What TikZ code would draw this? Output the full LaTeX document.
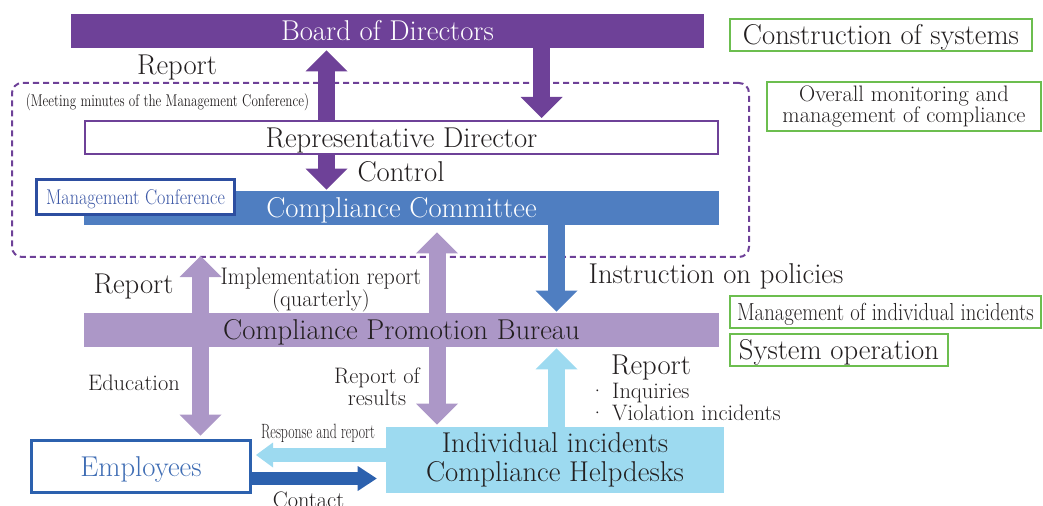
\documentclass[tikz,border=0pt]{standalone}
\usepackage{fontspec}
\usetikzlibrary{arrows.meta}
\pgfdeclarelayer{back}
\pgfdeclarelayer{bg}
\pgfsetlayers{back,bg,main}
\definecolor{cBoard}{HTML}{6E4198}
\definecolor{cCC}{HTML}{4F7EC1}
\definecolor{cLP}{HTML}{AC97C7}
\definecolor{cLB}{HTML}{9DDAF0}
\definecolor{cDB}{HTML}{2C61AE}
\definecolor{cMC}{HTML}{2D4EA0}
\definecolor{cMCt}{HTML}{3A56A5}
\definecolor{cG}{HTML}{6CBE4F}
\definecolor{cTx}{HTML}{231F20}
\definecolor{cEmp}{HTML}{3F6DB4}
\tikzset{
  box/.style={rectangle, inner sep=0pt},
  f20/.style={font=\fontsize{21.5}{24}\selectfont, text height=14.7pt, text depth=0pt},
  lab20/.style={font=\fontsize{21.5}{24}\selectfont, text=cTx, anchor=base, inner sep=0pt},
  lab15/.style={font=\fontsize{16.8}{18}\selectfont, text=cTx, anchor=base, inner sep=0pt},
  gbox/.style={box, draw=cG, line width=1.5pt, fill=white, text=cTx},
  BigTip/.tip={Triangle[width=31.5pt,length=15.75pt,line width=0pt]},
  RespTip/.tip={Triangle[width=18.75pt,length=12.75pt,line width=0pt]},
  ContTip/.tip={Triangle[width=18.75pt,length=14.25pt,line width=0pt]},
  bigarr/.style={line width=12.75pt, -BigTip},
  bigdbl/.style={line width=12.75pt, BigTip-BigTip},
}
\begin{document}
\begin{tikzpicture}[x=0.75pt,y=-0.75pt]
\useasboundingbox (0,0) rectangle (1043,506);
% coordinates for arrow axes
\coordinate (xa) at (326.5,0);
\coordinate (xb) at (541.5,0);
\coordinate (xc) at (556.5,0);
\coordinate (xd) at (200.5,0);
\coordinate (xe) at (437,0);
\coordinate (ya) at (0,455);
\coordinate (yb) at (0,478.5);

\begin{pgfonlayer}{back}
\node[box, draw=cBoard, line width=1.5pt, dash pattern=on 4.5pt off 3pt, rounded corners=7.5pt,
      minimum width=552.75pt, minimum height=130.5pt] (Mgmt) at (380.5,170) {};
\end{pgfonlayer}

% main bars
\node[box, fill=cBoard, minimum width=474.75pt, minimum height=25.5pt, f20, text=white] (Board) at (387.5,31) {Board of Directors};
\node[box, draw=cBoard, line width=1.5pt, fill=white, minimum width=474.75pt, minimum height=24.75pt, f20, text=cTx] (RD) at (401.5,137.5) {Representative Director};
\node[box, fill=cCC, minimum width=476.25pt, minimum height=25.5pt, f20, text=white] (CC) at (401.5,208) {Compliance Committee};
\node[box, fill=cLP, minimum width=476.25pt, minimum height=25.5pt, f20, text=cTx] (CPB) at (401.5,330) {Compliance Promotion Bureau};
\node[box, fill=cLB, minimum width=253.5pt, minimum height=49.5pt, font=\fontsize{21.5}{21.75}\selectfont, align=center, text=cTx] (HD) at (555,460) {Individual incidents\\Compliance Helpdesks};
\node[box, draw=cDB, line width=2.25pt, fill=white, minimum width=164.25pt, minimum height=39pt, f20, text=cEmp] (Emp) at (141,466.5) {Employees};
\node[box, draw=cMC, line width=2.25pt, fill=white, minimum width=148.5pt, minimum height=26.25pt, font=\fontsize{16}{18}\selectfont, text height=11pt, text depth=0pt, text=cMCt] (MC) at (135.5,197) {\scalebox{0.85}[1]{Management Conference}};

% green boxes
\node[gbox, minimum width=226.5pt, minimum height=24pt, f20] (CS) at (881,35) {Construction of systems};
\node[gbox, minimum width=205.5pt, minimum height=36.75pt, font=\fontsize{16.8}{15.75}\selectfont, align=center] (OM) at (904,106.5) {Overall monitoring and\\management of compliance};
\node[gbox, minimum width=233.25pt, minimum height=24pt, font=\fontsize{18.5}{20}\selectfont, text height=12.6pt, text depth=0pt] (MI) at (885.5,312) {\scalebox{0.84}[1]{Management of individual incidents}};
\node[gbox, minimum width=163.5pt, minimum height=24pt, f20] (SO) at (839,350) {System operation};

% labels
\node[lab20] (lRep1) at (177,75) {Report};
\node[font=\fontsize{12.8}{14}\selectfont, text=cTx, anchor=base, inner sep=0pt] (lMin) at (167.5,106.7) {\scalebox{0.77}[1]{(Meeting minutes of the Management Conference)}};
\node[lab20] (lCtl) at (401,181.7) {Control};
\node[lab20] (lIns) at (716,283) {Instruction on policies};
\node[lab20] (lRep2) at (133.5,293.3) {Report};
\node[font=\fontsize{18}{20}\selectfont, text=cTx, anchor=base, inner sep=0pt] (lImp) at (321,285) {\scalebox{0.92}[1]{Implementation report}};
\node[lab15] (lQ) at (321,306.7) {(quarterly)};
\node[lab15] (lEdu) at (134,390) {Education};
\node[lab15] (lRo) at (377,383) {Report of};
\node[lab15] (lRes) at (377,405) {results};
\node[lab20] (lRep3) at (651,374) {Report};
\node[lab15, anchor=base west] (lInq) at (589,398) {· Inquiries};
\node[lab15, anchor=base west] (lVio) at (589,420.7) {· Violation incidents};
\node[font=\fontsize{15.5}{17}\selectfont, text=cTx, anchor=base, inner sep=0pt] (lResp) at (318,438) {\scalebox{0.667}[1]{Response and report}};
\node[lab15] (lCon) at (308.5,507) {Contact};

% arrows
\begin{pgfonlayer}{bg}
\draw[bigarr, cBoard, shorten >=1.5pt] (RD.north -| xa) -- (Board.south -| xa);
\draw[bigarr, cBoard, shorten >=1.5pt] (Board.south -| xb) -- (RD.north -| xb);
\draw[bigarr, cBoard, shorten >=0.75pt] (RD.south -| xa) -- (CC.north -| xa);
\draw[bigarr, cCC, shorten >=0.75pt] (CC.south -| xc) -- (CPB.north -| xc);
\draw[bigdbl, cLP, shorten <=-1.5pt, shorten >=2.6pt] (Mgmt.south -| xd) -- (Emp.north -| xd);
\draw[bigdbl, cLP, shorten <=5.25pt, shorten >=1.5pt] (CC.south -| xe) -- (HD.north -| xe);
\draw[bigarr, cLB, shorten >=0.75pt] (HD.north -| xc) -- (CPB.south -| xc);
\draw[line width=10.5pt, -RespTip, cLB, shorten >=3pt] (HD.west |- ya) -- (Emp.east |- ya);
\draw[line width=9.75pt, -ContTip, cDB, shorten >=6.75pt] (Emp.east |- yb) -- (HD.west |- yb);
\end{pgfonlayer}
\end{tikzpicture}
\end{document}
